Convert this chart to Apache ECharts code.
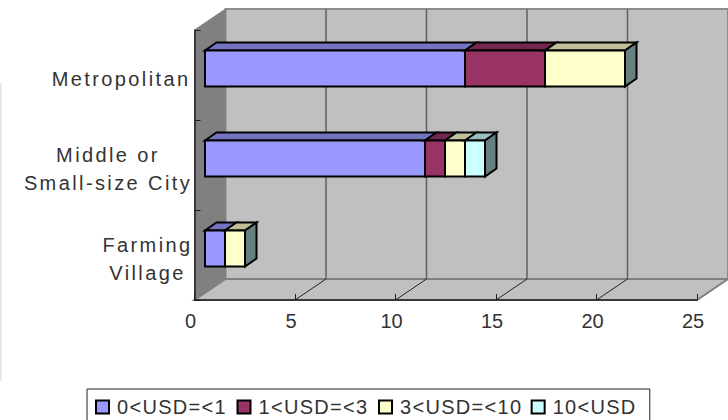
<!DOCTYPE html>
<html><head><meta charset="utf-8">
<style>html,body{margin:0;padding:0;background:#fff;overflow:hidden}#c{width:728px;height:420px}</style>
<script src="https://cdn.jsdelivr.net/npm/echarts@6/dist/echarts.min.js"></script>
</head><body><div id="c"></div>
<script>
const categories = ['Metropolitan', 'Middle or\nSmall-size City', 'Farming\nVillage'];
const usd0to1 = [13, 11, 1];
const usd1to3 = [4, 1, 0];
const usd3to10 = [4, 1, 1];
const usd10up = [0, 1, 0];
const seriesNames = ['0<USD=<1', '1<USD=<3', '3<USD=<10', '10<USD'];
const seriesValues = [usd0to1, usd1to3, usd3to10, usd10up];
const frontColors = ['#9999ff', '#993366', '#ffffcc', '#ccffff'];
const topColors = ['#7373bf', '#732650', '#bfbf99', '#99bfbf'];
const sideColor = '#668080';
const ticks = [0, 5, 10, 15, 20, 25];
const FONT = '"Liberation Sans", Arial, sans-serif';
const WALL = {dx: 31, dy: -21};
const BAR = {ox: 10.5, oy: -6.5, dx: 11.5, dy: -8, ratio: 0.4, squeeze: 0.1};

const chart = echarts.init(document.getElementById('c'), null, {renderer: 'svg'});

function poly(points, fill, stroke, lw) {
  return {type: 'polygon', shape: {points}, style: {fill, stroke: stroke || 'none', lineWidth: lw || 0}};
}
function line(a, b, stroke, lw) {
  return {type: 'line', shape: {x1: a[0], y1: a[1], x2: b[0], y2: b[1]}, style: {stroke, lineWidth: lw}};
}
function renderWalls(params, api) {
  const s = params.coordSys, l = s.x, r = s.x + s.width, t = s.y, b = s.y + s.height;
  const dx = WALL.dx, dy = WALL.dy, kids = [];
  kids.push(poly([[l + dx, t + dy], [r + dx, t + dy], [r + dx, b + dy], [l + dx, b + dy]], '#c0c0c0', '#8c8c8c', 2));
  kids.push(poly([[l, t], [l + dx, t + dy], [l + dx, b + dy], [l, b]], '#808080', '#808080', 1));
  kids.push(poly([[l, b], [l + dx, b + dy], [r + dx, b + dy], [r, b]], '#c0c0c0', '#808080', 2));
  ticks.forEach(v => {
    const x = api.coord([v, 0])[0];
    if (v > 0 && v < 25) kids.push(line([x + dx, t + dy], [x + dx, b + dy], '#606060', 1.5));
    if (v > 0 && v < 25) kids.push(line([x, b], [x + dx, b + dy], '#202020', 1));
  });
  return {type: 'group', children: kids};
}
function renderBar(idx) {
  return function (params, api) {
    const start = api.value(0), end = api.value(1), cat = api.value(2);
    const p0 = api.coord([start, cat]), p1 = api.coord([end, cat]);
    const h = api.size([0, 1])[1] * BAR.ratio;
    const x0 = p0[0] + BAR.ox - start * BAR.squeeze, x1 = p1[0] + BAR.ox - end * BAR.squeeze;
    const y0 = p0[1] + BAR.oy - h / 2, y1 = y0 + h;
    const kids = [];
    if (end > start) {
      kids.push(poly([[x0, y0], [x0 + BAR.dx, y0 + BAR.dy], [x1 + BAR.dx, y0 + BAR.dy], [x1, y0]], topColors[idx], '#000', 2));
      kids.push(poly([[x0, y0], [x1, y0], [x1, y1], [x0, y1]], frontColors[idx], '#000', 2));
    }
    if (idx === seriesNames.length - 1) {
      kids.push(poly([[x1, y0], [x1 + BAR.dx, y0 + BAR.dy], [x1 + BAR.dx, y1 + BAR.dy], [x1, y1]], sideColor, '#000', 2));
    }
    return {type: 'group', children: kids};
  };
}
const running = categories.map(() => 0);
const barSeries = seriesNames.map((name, i) => ({
  type: 'custom', name, coordinateSystem: 'cartesian2d', clip: false, z: 3,
  encode: {x: [0, 1], y: 2},
  renderItem: renderBar(i),
  itemStyle: {color: frontColors[i]},
  data: seriesValues[i].map((v, c) => { const s = running[c]; running[c] += v; return [s, running[c], c]; })
}));

chart.setOption({
  animation: false,
  backgroundColor: '#fff',
  grid: {left: 194.5, right: 31, top: 30, bottom: 120, containLabel: false},
  xAxis: {
    type: 'value', min: 0, max: 25, interval: 5, z: 10,
    splitLine: {show: false},
    axisLine: {show: true, lineStyle: {color: '#202020', width: 1.5}},
    axisTick: {show: true, inside: true, length: 6, alignWithLabel: true, lineStyle: {color: '#202020', width: 1}},
    axisLabel: {color: '#333', fontFamily: FONT, fontSize: 20, margin: 11, padding: [0, 8, 0, 0], showMinLabel: true, showMaxLabel: true, hideOverlap: false}
  },
  yAxis: {
    type: 'category', data: categories, inverse: true, z: 10,
    axisLine: {show: true, lineStyle: {color: '#202020', width: 1.5}},
    axisTick: {show: true, inside: true, length: 6, lineStyle: {color: '#202020', width: 1}},
    splitLine: {show: false},
    axisLabel: {
      color: '#333', fontFamily: FONT, fontSize: 20, margin: 4, padding: [7, 0, 0, 0], lineHeight: 28,
      formatter: v => {
        if (v.indexOf('Middle') === 0) return v.split('\n').map(t => '{a|' + t + '}').join('\n');
        if (v.indexOf('Farming') === 0) return v.split('\n').map(t => '{b|' + t + '}').join('\n');
        return v;
      },
      rich: {
        a: {width: 165, align: 'center', fontFamily: FONT, fontSize: 20, color: '#333', lineHeight: 28},
        b: {width: 86, align: 'center', fontFamily: FONT, fontSize: 20, color: '#333', lineHeight: 28}
      }
    }
  },
  legend: {
    left: 87, top: 389, orient: 'horizontal', itemWidth: 13, itemHeight: 13, itemGap: 20,
    padding: [8, 21, 24, 8], borderColor: '#222', borderWidth: 1, backgroundColor: '#fff',
    selectedMode: false, icon: 'rect',
    textStyle: {fontFamily: FONT, fontSize: 20, color: '#333', padding: [0, 0, 0, 3]},
    data: seriesNames.map((name, i) => ({name, itemStyle: {color: frontColors[i], borderColor: '#000', borderWidth: 2}}))
  },
  graphic: [{type: 'rect', shape: {x: 0, y: 83, width: 1.5, height: 298}, style: {fill: '#e4e4e4'}, silent: true}],
  series: [{type: 'custom', name: 'walls', coordinateSystem: 'cartesian2d', silent: true, clip: false, z: 1,
    renderItem: renderWalls, data: [[0, 0]], encode: {x: 0, y: 1}}].concat(barSeries)
});
function spacing() {
  document.querySelectorAll('#c svg text').forEach(t => {
    const s = t.textContent.trim();
    t.style.letterSpacing = /^\d+$/.test(s) ? '0px' : (/USD/.test(s) ? '1.3px' : '2.4px');
  });
}
spacing();
chart.on('finished', spacing);
</script></body></html>
